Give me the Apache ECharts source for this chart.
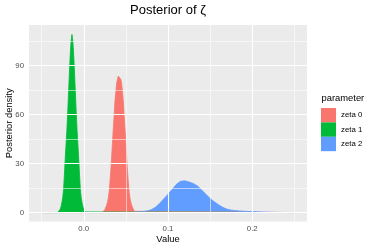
<!DOCTYPE html>
<html><head><meta charset="utf-8">
<script src="https://cdn.jsdelivr.net/npm/echarts@6/dist/echarts.min.js"></script>
<style>html,body{margin:0;padding:0;background:#fff}#c{width:374px;height:249px}</style>
</head><body><div id="c"></div>
<script>
// ---- data ----
const seriesNames = ['zeta 0', 'zeta 1', 'zeta 2'];
const seriesColors = ['#F8766D', '#00BA38', '#619CFF'];

const zeta0X = [-0.05, 0.022, 0.023, 0.024, 0.025, 0.026, 0.027, 0.028, 0.029, 0.030, 0.031, 0.032, 0.033, 0.034, 0.035, 0.036, 0.037, 0.038, 0.039, 0.040, 0.041, 0.042, 0.043, 0.044, 0.045, 0.046, 0.047, 0.048, 0.049, 0.050, 0.051, 0.052, 0.053, 0.054, 0.055, 0.056, 0.057, 0.058, 0.059, 0.060, 0.061, 0.062, 0.25];
const zeta0Y = [0, 0, 0.2, 0.8, 1.8, 3, 4.3, 6, 8.5, 12, 18, 25, 33, 42, 51, 59, 68, 73.5, 79, 81.5, 83.5, 84.5, 83.5, 81.5, 79, 73.5, 68, 59, 51, 42, 33, 25, 18, 12, 8.5, 6, 4.3, 3, 1.8, 0.8, 0.2, 0, 0];

const zeta1X = [-0.05, -0.031, -0.030, -0.029, -0.028, -0.027, -0.026, -0.025, -0.024, -0.023, -0.022, -0.021, -0.020, -0.019, -0.018, -0.017, -0.016, -0.015, -0.014, -0.013, -0.012, -0.011, -0.010, -0.009, -0.008, -0.007, -0.006, -0.005, -0.004, -0.003, -0.002, -0.001, 0.000, 0.001, 0.002, 0.003, 0.25];
const zeta1Y = [0, 0, 0.4, 1, 2, 3.5, 6, 9, 14, 23, 33, 42, 51, 62, 74, 86, 97, 105, 109, 105, 97, 86, 74, 62, 51, 42, 33, 23, 14, 9, 6, 3.5, 2, 1, 0.4, 0, 0];

const zeta2X = [-0.05, 0.050, 0.055, 0.060, 0.065, 0.070, 0.075, 0.080, 0.085, 0.090, 0.095, 0.100, 0.105, 0.110, 0.115, 0.120, 0.125, 0.130, 0.135, 0.140, 0.145, 0.150, 0.155, 0.160, 0.165, 0.170, 0.175, 0.180, 0.185, 0.190, 0.195, 0.200, 0.205, 0.210, 0.215, 0.220, 0.230, 0.240, 0.250];
const zeta2Y = [0, 0, 0.1, 0.2, 0.35, 0.6, 1.0, 1.7, 3.2, 5.6, 8.4, 11.2, 14.2, 17.3, 19.2, 19.4, 18.7, 17.8, 16.3, 13.8, 11.2, 8.6, 6.6, 4.8, 3.2, 2.1, 1.5, 1.2, 1.0, 0.8, 0.7, 0.6, 0.5, 0.4, 0.3, 0.2, 0.1, 0.05, 0];

const xTicks = [0, 0.1, 0.2];
const xMinorGrid = [-0.05, 0.05, 0.15, 0.25];
const yTicks = [0, 30, 60, 90];
const yMinorGrid = [15, 45, 75, 105];

// ---- chart ----
const FONT = "'Liberation Sans', Arial, Helvetica, sans-serif";
const chart = echarts.init(document.getElementById('c'), null, {renderer: 'canvas'});

function pairs(xs, ys) { return xs.map((x, i) => [x, ys[i]]); }
function areaSeries(name, xs, ys, color) {
  return {
    name, type: 'line', data: pairs(xs, ys), symbol: 'none', showSymbol: false,
    lineStyle: {color, width: 0.8}, areaStyle: {color, opacity: 1},
    itemStyle: {color}, z: 3, silent: true
  };
}

const gridLines = [];
xTicks.forEach(v => gridLines.push({xAxis: v, lineStyle: {color: '#ffffff', width: 1.1, type: 'solid'}}));
xMinorGrid.forEach(v => gridLines.push({xAxis: v, lineStyle: {color: '#ffffff', width: 0.55, type: 'solid'}}));
yTicks.forEach(v => gridLines.push({yAxis: v, lineStyle: {color: '#ffffff', width: 1.1, type: 'solid'}}));
yMinorGrid.forEach(v => gridLines.push({yAxis: v, lineStyle: {color: '#ffffff', width: 0.55, type: 'solid'}}));

const option = {
  animation: false,
  backgroundColor: '#ffffff',
  textStyle: {fontFamily: FONT},
  title: [
    {text: 'Posterior of ζ', left: 168, top: 4, padding: 0, textAlign: 'center',
     textStyle: {fontSize: 13, fontWeight: 'normal', color: '#000', fontFamily: FONT}},
    {text: 'parameter', left: 321.5, top: 94, padding: 0,
     textStyle: {fontSize: 9.4, fontWeight: 'normal', color: '#000', fontFamily: FONT}}
  ],
  legend: {
    data: seriesNames, orient: 'vertical', left: 321, top: 108, padding: 0,
    itemWidth: 15, itemHeight: 14.4, itemGap: 0, icon: 'rect',
    textStyle: {fontSize: 7.8, color: '#000', fontFamily: FONT, padding: [0, 0, 0, 0]},
    selectedMode: false
  },
  grid: {left: 29, top: 25, width: 278, height: 196.5, show: true, backgroundColor: '#EBEBEB', borderWidth: 0,
         containLabel: false, outerBoundsMode: 'none'},
  xAxis: {
    type: 'value', min: -0.065, max: 0.265,
    splitLine: {show: false}, axisLine: {show: false},
    axisTick: {show: true, length: 2.7, lineStyle: {color: '#333333', width: 1}, customValues: xTicks},
    axisLabel: {customValues: xTicks, formatter: v => v.toFixed(1), color: '#4D4D4D', fontSize: 7.8, margin: 3, fontFamily: FONT},
    name: 'Value', nameLocation: 'middle', nameGap: 13.5, nameMoveOverlap: false,
    nameTextStyle: {color: '#000', fontSize: 9.4, fontFamily: FONT}
  },
  yAxis: {
    type: 'value', min: -5.465, max: 114.77,
    splitLine: {show: false}, axisLine: {show: false},
    axisTick: {show: true, length: 2.7, lineStyle: {color: '#333333', width: 1}, customValues: yTicks},
    axisLabel: {customValues: yTicks, formatter: v => String(v), color: '#4D4D4D', fontSize: 7.8, margin: 5, fontFamily: FONT},
    name: 'Posterior density', nameLocation: 'middle', nameGap: 15, nameMoveOverlap: false,
    nameTextStyle: {color: '#000', fontSize: 9.4, fontFamily: FONT}
  },
  series: [
    {name: 'grid', type: 'line', data: [[0, 0]], symbol: 'none', lineStyle: {opacity: 0}, z: 1, silent: true,
     markLine: {silent: true, symbol: 'none', label: {show: false}, animation: false, data: gridLines}},
    areaSeries(seriesNames[0], zeta0X, zeta0Y, seriesColors[0]),
    areaSeries(seriesNames[1], zeta1X, zeta1Y, seriesColors[1]),
    areaSeries(seriesNames[2], zeta2X, zeta2Y, seriesColors[2])
  ]
};
chart.setOption(option);
</script></body></html>
